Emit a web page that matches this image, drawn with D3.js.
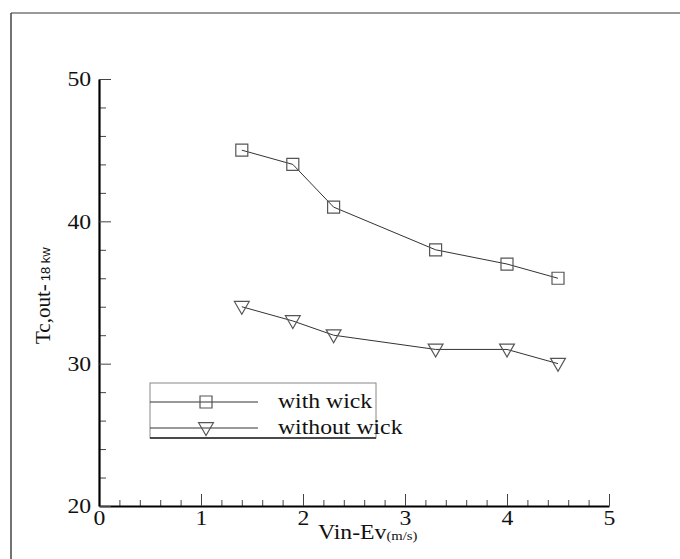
<!DOCTYPE html>
<html>
<head>
<meta charset="utf-8">
<script src="https://cdn.jsdelivr.net/npm/d3@7/dist/d3.min.js"></script>
<style>
  html, body { margin: 0; padding: 0; background: #fff; }
  svg { display: block; }
  .serif { font-family: "Liberation Serif", "Times New Roman", Times, "DejaVu Serif", serif; }
  .sans { font-family: "Liberation Sans", Arial, "DejaVu Sans", sans-serif; }
</style>
</head>
<body>
<svg id="chart" width="680" height="559"></svg>
<script>
// Outlet condenser temperature vs. inlet evaporator velocity
const velocity = [1.4, 1.9, 2.3, 3.3, 4.0, 4.5];
const withWick = [45, 44, 41, 38, 37, 36];
const withoutWick = [34, 33, 32, 31, 31, 30];
const seriesNames = ["with wick", "without wick"];
const xTicks = [0, 1, 2, 3, 4, 5];
const yTicks = [20, 30, 40, 50];

const svg = d3.select("#chart");
const stretch = 1.13;

const x = d3.scaleLinear().domain([0, 5]).range([99, 609]);
const y = d3.scaleLinear().domain([20, 50]).range([506, 79]);

// outer frame (top and left edges)
svg.append("line").attr("x1", 11).attr("x2", 680).attr("y1", 13).attr("y2", 13)
  .attr("stroke", "#999").attr("stroke-width", 2);
svg.append("line").attr("x1", 11).attr("x2", 11).attr("y1", 13).attr("y2", 559)
  .attr("stroke", "#444").attr("stroke-width", 1.5);

// minor ticks
const xMinor = d3.range(0, 5.001, 0.2).filter(v => Math.abs(v - Math.round(v)) > 1e-6);
const yMinor = d3.range(20, 50.001, 2).filter(v => v % 10 !== 0);

svg.append("g").attr("transform", `translate(0,${y(20)})`)
  .call(d3.axisBottom(x).tickValues(xMinor).tickFormat("").tickSize(-6).tickSizeOuter(0))
  .call(g => g.select(".domain").remove())
  .call(g => g.selectAll("line").attr("stroke", "#444"));
svg.append("g").attr("transform", `translate(${x(0)},0)`)
  .call(d3.axisLeft(y).tickValues(yMinor).tickFormat("").tickSize(-7).tickSizeOuter(0))
  .call(g => g.select(".domain").remove())
  .call(g => g.selectAll("line").attr("stroke", "#444"));

// major axes
const xAxis = svg.append("g").attr("transform", `translate(0,${y(20)})`)
  .call(d3.axisBottom(x).tickValues(xTicks).tickFormat(d3.format("d")).tickSize(-12).tickSizeOuter(0).tickPadding(4));
const yAxis = svg.append("g").attr("transform", `translate(${x(0)},0)`)
  .call(d3.axisLeft(y).tickValues(yTicks).tickFormat(d3.format("d")).tickSize(-12).tickSizeOuter(0).tickPadding(7));

[xAxis, yAxis].forEach(g => {
  g.attr("font-family", null);
  g.select(".domain").attr("stroke", "#000").attr("stroke-width", 2.2);
  g.selectAll(".tick line").attr("stroke", "#444");
  g.selectAll(".tick text").attr("class", "serif").attr("fill", "#111")
    .attr("font-size", 21).attr("transform", `scale(${stretch},1)`);
});

// series
const line = d3.line().x(d => x(d[0])).y(d => y(d[1]));
const sq = d3.symbol().type(d3.symbolSquare).size(144);
const tri = d3.symbol().type(d3.symbolTriangle).size(95);

const dataWith = velocity.map((v, i) => [v, withWick[i]]);
const dataWithout = velocity.map((v, i) => [v, withoutWick[i]]);

svg.append("path").datum(dataWith).attr("d", line)
  .attr("fill", "none").attr("stroke", "#333").attr("stroke-width", 1);
svg.append("path").datum(dataWithout).attr("d", line)
  .attr("fill", "none").attr("stroke", "#333").attr("stroke-width", 1);

svg.selectAll(".m-with").data(dataWith).join("path").attr("class", "m-with")
  .attr("d", sq).attr("transform", d => `translate(${x(d[0])},${y(d[1])})`)
  .attr("fill", "none").attr("stroke", "#555").attr("stroke-width", 1.2);
svg.selectAll(".m-without").data(dataWithout).join("path").attr("class", "m-without")
  .attr("d", tri).attr("transform", d => `translate(${x(d[0])},${y(d[1]) - 1}) rotate(180)`)
  .attr("fill", "none").attr("stroke", "#555").attr("stroke-width", 1.2);

// legend
const leg = svg.append("g");
leg.append("rect").attr("x", 150).attr("y", 383).attr("width", 226).attr("height", 55)
  .attr("fill", "none").attr("stroke", "#888").attr("stroke-width", 1);
leg.append("line").attr("x1", 150).attr("x2", 376).attr("y1", 438).attr("y2", 438)
  .attr("stroke", "#222").attr("stroke-width", 1.3);
const legY = [402, 428];
const legSym = [sq, tri];
seriesNames.forEach((name, i) => {
  leg.append("line").attr("x1", 150).attr("x2", 258).attr("y1", legY[i]).attr("y2", legY[i])
    .attr("stroke", "#333").attr("stroke-width", 1);
  leg.append("path").attr("d", legSym[i])
    .attr("transform", `translate(206,${legY[i] - (i ? 1 : 0)})${i ? " rotate(180)" : ""}`)
    .attr("fill", "none").attr("stroke", "#555").attr("stroke-width", 1.2);
  leg.append("text").attr("class", "serif")
    .attr("transform", `translate(278,${legY[i] + 6}) scale(${stretch},1)`)
    .attr("font-size", 21).attr("fill", "#111").text(name);
});

// axis titles
const xt = svg.append("text").attr("class", "serif")
  .attr("transform", `translate(318,539) scale(${stretch},1)`).attr("fill", "#111");
xt.append("tspan").attr("font-size", 21).text("Vin-Ev");
xt.append("tspan").attr("font-size", 13).attr("dy", 1).text("(m/s)");

const yt = svg.append("text").attr("transform", "translate(50,344) rotate(-90)")
  .attr("fill", "#111");
yt.append("tspan").attr("class", "serif").attr("font-size", 21).text("Tc,out-");
yt.append("tspan").attr("class", "sans").attr("font-size", 13).attr("dx", 3).text("18 kw");
</script>
</body>
</html>
